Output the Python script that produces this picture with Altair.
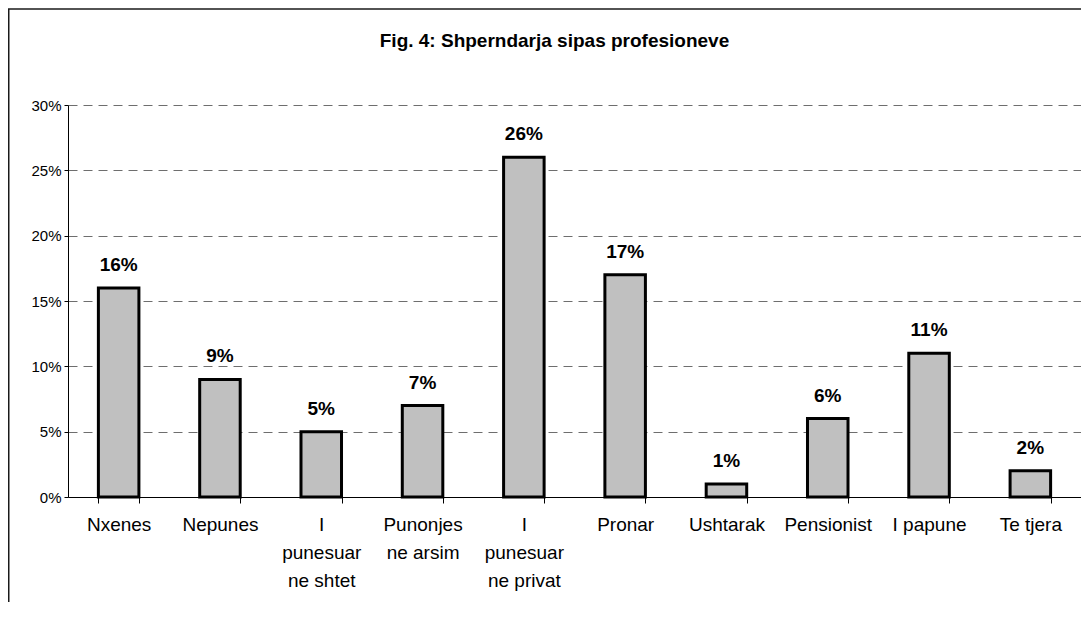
import altair as alt
import pandas as pd

categories = ["Nxenes", "Nepunes", "I\npunesuar\nne shtet", "Punonjes\nne arsim",
              "I\npunesuar\nne privat", "Pronar", "Ushtarak", "Pensionist",
              "I papune", "Te tjera"]
values = [0.16, 0.09, 0.05, 0.07, 0.26, 0.17, 0.01, 0.06, 0.11, 0.02]
y_ticks = [0, 0.05, 0.10, 0.15, 0.20, 0.25, 0.30]
title_text = "Fig. 4: Shperndarja sipas profesioneve"

FONT = "Liberation Sans"
W, H = 1013, 392

df = pd.DataFrame({"cat": categories, "val": values})

x_enc = alt.X("cat:N", sort=categories,
              scale=alt.Scale(paddingInner=0.6, paddingOuter=0.3),
              axis=alt.Axis(title=None, labelAngle=0, tickBand="extent", tickSize=6,
                            tickColor="black", domainColor="black", labelColor="black",
                            labelFont=FONT, labelFontSize=19, labelLineHeight=28,
                            labelPadding=12, labelOverlap=False, labelLimit=0,
                            labelExpr="split(datum.label, '\\n')", grid=False))
y_enc = alt.Y("val:Q", scale=alt.Scale(domain=[0, 0.3], nice=False),
              axis=alt.Axis(title=None, values=y_ticks, format=".0%", grid=True,
                            gridDash=[9, 6], gridColor="#6e6e6e", gridWidth=1,
                            domainColor="black", tickColor="black", tickSize=4,
                            labelPadding=3, labelFont=FONT, labelFontSize=15,
                            labelColor="black"))

base = alt.Chart(df)
bars = base.mark_bar(color="#C0C0C0", stroke="black", strokeWidth=3).encode(x=x_enc, y=y_enc)
labels = base.mark_text(font=FONT, fontSize=19, fontWeight="bold", color="black",
                        baseline="alphabetic", dy=-17).encode(
    x=alt.X("cat:N", sort=categories), y="val:Q", text=alt.Text("val:Q", format=".0%"))

frame_df = pd.DataFrame({"k": [0]})
frame_left = alt.Chart(frame_df).mark_rule(color="#1a1a1a", strokeWidth=1.5).encode(
    x=alt.value(-59.25), y=alt.value(-96), y2=alt.value(H + 105))
frame_top = alt.Chart(frame_df).mark_rule(color="#1a1a1a", strokeWidth=1.5).encode(
    x=alt.value(-60), x2=alt.value(W + 20), y=alt.value(-96))

chart = alt.layer(bars, labels, frame_left, frame_top).properties(
    width=W, height=H,
    title=alt.TitleParams(title_text, font=FONT, fontSize=19, fontWeight="bold",
                          color="black", anchor="middle", dx=-20, offset=-58,
                          baseline="alphabetic"),
    autosize=alt.AutoSizeParams(type="none"),
    padding={"left": 60, "top": 97, "right": 0, "bottom": 105},
).configure_view(stroke=None)

chart.save("out.html", embed_options={"renderer": "svg", "actions": False})
